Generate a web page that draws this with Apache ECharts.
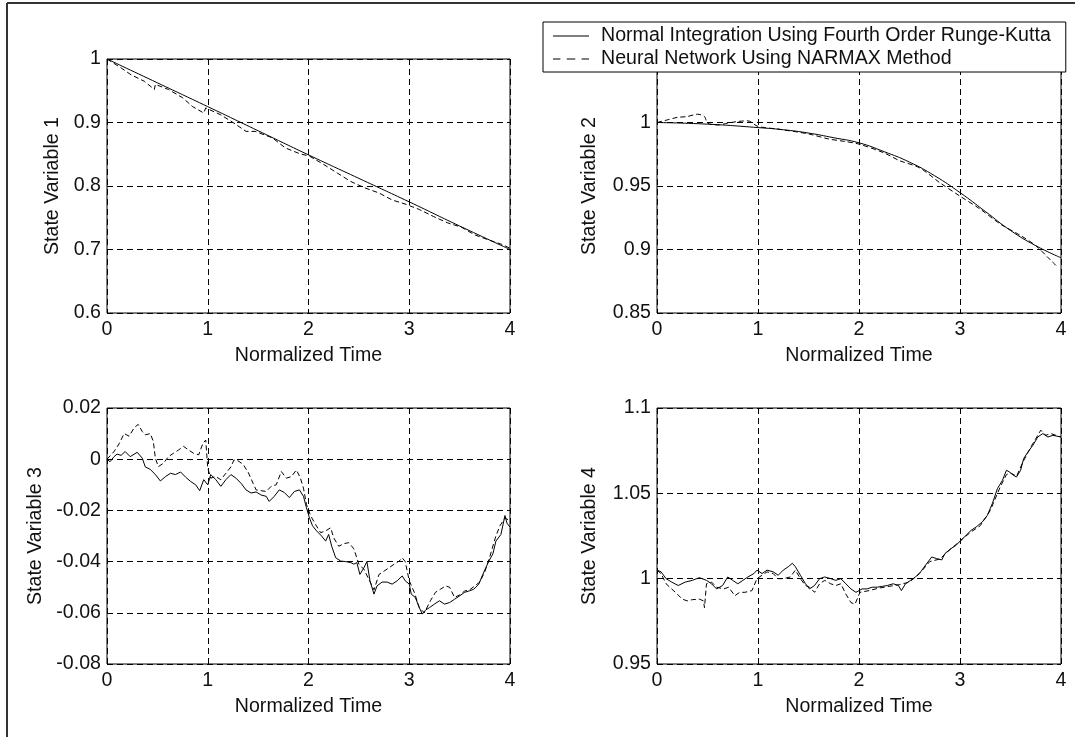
<!DOCTYPE html>
<html>
<head>
<meta charset="utf-8">
<title>State variables: Runge-Kutta vs NARMAX</title>
<script src="https://cdn.jsdelivr.net/npm/echarts@6/dist/echarts.min.js"></script>
<style>
  html, body { margin: 0; padding: 0; background: #fff; }
  #chart { width: 1075px; height: 737px; }
</style>
</head>
<body>
<div id="chart"></div>
<script>
// tick labels
var xLabels = ["0", "1", "2", "3", "4"];
var yLabels1 = ["0.6", "0.7", "0.8", "0.9", "1"];
var yLabels2 = ["0.85", "0.9", "0.95", "1", "1.05"];
var yLabels3 = ["-0.08", "-0.06", "-0.04", "-0.02", "0", "0.02"];
var yLabels4 = ["0.95", "1", "1.05", "1.1"];

var nameRk = "Normal Integration Using Fourth Order Runge-Kutta";
var nameNn = "Neural Network Using NARMAX Method";

// [normalized time, value]
var state1Rk = [[0, 1], [0.5, 0.9625], [1, 0.925], [1.5, 0.887], [2, 0.849], [2.5, 0.812],
  [3, 0.775], [3.5, 0.737], [4, 0.70]];
var state1Nn = [[0, 1], [0.14, 0.986], [0.24, 0.975], [0.37, 0.965], [0.47, 0.952], [0.48, 0.96],
  [0.61, 0.952], [0.75, 0.939], [0.85, 0.925], [0.96, 0.915], [0.98, 0.923], [1.13, 0.912],
  [1.26, 0.899], [1.38, 0.886], [1.47, 0.886], [1.64, 0.876], [1.77, 0.86], [1.91, 0.851],
  [2.01, 0.847], [2.15, 0.834], [2.29, 0.82], [2.42, 0.807], [2.56, 0.797], [2.7, 0.789],
  [2.83, 0.778], [2.97, 0.771], [3.1, 0.763], [3.24, 0.752], [3.38, 0.742], [3.52, 0.735],
  [3.65, 0.723], [3.79, 0.715], [3.92, 0.708], [4, 0.702]];

var state2Rk = [[0, 1], [0.5, 0.9987], [1, 0.996], [1.25, 0.9943], [1.5, 0.9917], [1.75, 0.988],
  [2, 0.984], [2.25, 0.977], [2.5, 0.9688], [2.75, 0.958], [3, 0.9448], [3.25, 0.930],
  [3.5, 0.915], [3.75, 0.903], [4, 0.8935]];
var state2Nn = [[0, 1], [0.1, 1.002], [0.2, 1.004], [0.3, 1.0047], [0.4, 1.0065], [0.47, 1.0047],
  [0.5, 0.9995], [0.6, 0.998], [0.7, 0.9995], [0.8, 1.0008], [0.9, 1.0013], [1.0, 0.9969],
  [1.2, 0.9948], [1.5, 0.991], [1.7, 0.987], [1.85, 0.9852], [2.0, 0.983], [2.25, 0.976],
  [2.4, 0.970], [2.6, 0.9643], [2.8, 0.9526], [3.0, 0.942], [3.2, 0.9318], [3.4, 0.920],
  [3.6, 0.911], [3.75, 0.903], [3.9, 0.8914], [3.95, 0.8875]];

var state3Rk = [[0, 0], [0.03, -0.001], [0.07, 0.001], [0.1, 0.002], [0.14, 0.0015], [0.18, 0.003],
  [0.23, 0.001], [0.3, 0.0027], [0.35, 0.0004], [0.38, -0.003], [0.43, -0.004], [0.48, -0.006],
  [0.53, -0.0085], [0.58, -0.0068], [0.63, -0.0055], [0.68, -0.006], [0.73, -0.005], [0.78, -0.007],
  [0.83, -0.0087], [0.88, -0.010], [0.92, -0.0123], [0.96, -0.008], [1.0, -0.010], [1.03, -0.006],
  [1.08, -0.008], [1.13, -0.0106], [1.18, -0.008], [1.23, -0.006], [1.28, -0.0074], [1.33, -0.0094],
  [1.38, -0.012], [1.43, -0.0132], [1.48, -0.0128], [1.53, -0.014], [1.58, -0.0145], [1.61, -0.0165],
  [1.66, -0.0145], [1.71, -0.012], [1.76, -0.013], [1.81, -0.015], [1.86, -0.0126], [1.91, -0.012],
  [1.95, -0.0145], [1.98, -0.019], [2.01, -0.023], [2.04, -0.026], [2.08, -0.028], [2.13, -0.030],
  [2.17, -0.032], [2.2, -0.0294], [2.23, -0.034], [2.27, -0.0385], [2.32, -0.0398], [2.37, -0.040],
  [2.42, -0.0404], [2.45, -0.041], [2.48, -0.0404], [2.51, -0.045], [2.55, -0.0424], [2.58, -0.040],
  [2.61, -0.0475], [2.65, -0.0527], [2.68, -0.0495], [2.73, -0.048], [2.78, -0.048], [2.83, -0.0488],
  [2.88, -0.0475], [2.93, -0.0456], [2.96, -0.0475], [3.0, -0.0488], [3.02, -0.0527], [3.06, -0.054],
  [3.1, -0.058], [3.13, -0.0605], [3.16, -0.059], [3.2, -0.058], [3.25, -0.0566], [3.3, -0.0553],
  [3.35, -0.0566], [3.4, -0.056], [3.45, -0.0547], [3.5, -0.0534], [3.55, -0.052], [3.6, -0.0514],
  [3.64, -0.0508], [3.69, -0.0488], [3.73, -0.045], [3.76, -0.0424], [3.79, -0.0398], [3.83, -0.037],
  [3.86, -0.032], [3.91, -0.0294], [3.95, -0.022], [3.97, -0.025], [4, -0.0265]];
var state3Nn = [[0, 0], [0.07, 0.003], [0.12, 0.006], [0.17, 0.010], [0.22, 0.009], [0.27, 0.0123],
  [0.31, 0.0136], [0.35, 0.0108], [0.38, 0.0095], [0.43, 0.010], [0.46, 0.0069], [0.48, 0.0004],
  [0.51, -0.0029], [0.56, -0.0016], [0.61, 0.001], [0.66, 0.0023], [0.71, 0.0036], [0.76, 0.005],
  [0.81, 0.0036], [0.86, 0.0023], [0.91, 0.0017], [0.95, 0.006], [0.98, 0.0075], [1.0, -0.0035],
  [1.03, -0.0074], [1.08, -0.0068], [1.13, -0.008], [1.18, -0.0055], [1.23, -0.003], [1.26, -0.0003],
  [1.3, -0.0006], [1.35, -0.002], [1.4, -0.005], [1.45, -0.0094], [1.48, -0.012], [1.53, -0.0123],
  [1.58, -0.0126], [1.63, -0.0106], [1.68, -0.010], [1.73, -0.0048], [1.78, -0.0074], [1.83, -0.0068],
  [1.88, -0.0042], [1.92, -0.0074], [1.95, -0.0113], [1.98, -0.0177], [2.02, -0.022], [2.07, -0.0255],
  [2.12, -0.0287], [2.17, -0.028], [2.22, -0.0268], [2.25, -0.0307], [2.3, -0.034], [2.35, -0.033],
  [2.4, -0.0326], [2.45, -0.035], [2.5, -0.041], [2.55, -0.043], [2.6, -0.047], [2.65, -0.051],
  [2.7, -0.045], [2.75, -0.0437], [2.8, -0.0424], [2.85, -0.041], [2.9, -0.0398], [2.93, -0.0385],
  [2.96, -0.040], [3.0, -0.0475], [3.05, -0.052], [3.1, -0.058], [3.15, -0.060], [3.21, -0.0553],
  [3.26, -0.052], [3.31, -0.0508], [3.36, -0.0495], [3.4, -0.050], [3.45, -0.054], [3.5, -0.053],
  [3.55, -0.0515], [3.6, -0.051], [3.65, -0.0495], [3.7, -0.048], [3.75, -0.044], [3.8, -0.038],
  [3.86, -0.030], [3.9, -0.026], [3.95, -0.023], [4, -0.024]];

var state4Rk = [[0, 1.005], [0.04, 1.004], [0.09, 1.0], [0.145, 0.998], [0.21, 0.996], [0.28, 0.998],
  [0.35, 0.999], [0.42, 1.0006], [0.49, 0.999], [0.54, 0.997], [0.59, 0.994], [0.65, 0.996],
  [0.70, 1.001], [0.75, 0.999], [0.8, 0.997], [0.85, 0.999], [0.9, 1.001], [0.96, 1.003],
  [0.99, 1.005], [1.04, 1.003], [1.09, 1.005], [1.15, 1.004], [1.2, 1.002], [1.25, 1.005],
  [1.3, 1.007], [1.34, 1.009], [1.37, 1.007], [1.42, 1.002], [1.47, 0.997], [1.51, 0.994],
  [1.56, 0.996], [1.61, 1.0], [1.66, 1.001], [1.72, 1.0], [1.77, 0.999], [1.82, 1.0],
  [1.87, 0.997], [1.92, 0.994], [1.97, 0.992], [2.03, 0.994], [2.08, 0.994], [2.13, 0.995],
  [2.18, 0.995], [2.23, 0.9955], [2.28, 0.996], [2.34, 0.997], [2.39, 0.996], [2.42, 0.993],
  [2.46, 0.997], [2.51, 0.999], [2.56, 1.001], [2.61, 1.004], [2.66, 1.008], [2.72, 1.0127],
  [2.77, 1.0117], [2.82, 1.011], [2.85, 1.0147], [2.91, 1.0176], [2.96, 1.0195], [3.01, 1.0225],
  [3.06, 1.0254], [3.11, 1.0283], [3.16, 1.0303], [3.22, 1.0332], [3.27, 1.037], [3.32, 1.044],
  [3.37, 1.0527], [3.42, 1.0576], [3.46, 1.0635], [3.49, 1.0625], [3.53, 1.0605], [3.56, 1.0596],
  [3.6, 1.0635], [3.63, 1.0703], [3.67, 1.074], [3.72, 1.078], [3.77, 1.083], [3.82, 1.085],
  [3.87, 1.083], [3.92, 1.084], [4, 1.083]];
var state4Nn = [[0, 1.005], [0.04, 1.003], [0.09, 0.997], [0.145, 0.994], [0.2, 0.991], [0.25, 0.988],
  [0.3, 0.987], [0.35, 0.9877], [0.42, 0.988], [0.46, 0.987], [0.47, 0.983], [0.49, 0.997],
  [0.54, 0.998], [0.59, 0.995], [0.66, 0.994], [0.71, 0.995], [0.77, 0.990], [0.82, 0.992],
  [0.87, 0.992], [0.94, 0.993], [0.99, 1.0], [1.04, 1.002], [1.09, 1.004], [1.15, 1.003],
  [1.2, 1.0], [1.25, 1.0], [1.32, 1.001], [1.37, 1.005], [1.42, 1.0], [1.47, 0.996],
  [1.51, 0.995], [1.56, 0.992], [1.61, 0.997], [1.66, 0.999], [1.72, 0.997], [1.77, 0.996],
  [1.82, 0.997], [1.87, 0.991], [1.92, 0.986], [1.96, 0.985], [2.01, 0.992], [2.1, 0.993],
  [2.2, 0.9945], [2.3, 0.9955], [2.4, 0.9965], [2.5, 0.998], [2.6, 1.003], [2.7, 1.010],
  [2.8, 1.0115], [2.9, 1.017], [3.0, 1.022], [3.1, 1.027], [3.2, 1.031], [3.3, 1.040],
  [3.4, 1.054], [3.46, 1.061], [3.5, 1.062], [3.56, 1.060], [3.62, 1.068], [3.7, 1.077],
  [3.75, 1.082], [3.8, 1.087], [3.85, 1.084], [3.9, 1.085], [4, 1.083]];

var font = "'Liberation Sans', Arial, Helvetica, sans-serif";
var textCol = "#111";
var fs = 19.6;

var myChart = echarts.init(document.getElementById("chart"), null, { renderer: "canvas" });

function xAxisFor(gi) {
  return {
    type: "value",
    gridIndex: gi,
    min: 0,
    max: 4,
    interval: 1,
    name: "Normalized Time",
    nameLocation: "middle",
    nameGap: 33,
    nameTextStyle: { color: textCol, fontSize: fs, fontFamily: font },
    axisLine: { show: false, onZero: false },
    axisTick: { show: false },
    splitLine: { show: true, lineStyle: { color: "#000", type: [6, 4], width: 1 } },
    axisLabel: {
      margin: 7,
      color: textCol,
      fontSize: fs,
      fontFamily: font,
      formatter: function (v, i) { return xLabels[i]; }
    }
  };
}

function yAxisFor(gi, min, max, step, labels, title, gap) {
  return {
    type: "value",
    gridIndex: gi,
    min: min,
    max: max,
    interval: step,
    name: title,
    nameLocation: "middle",
    nameGap: gap,
    nameTextStyle: { color: textCol, fontSize: fs, fontFamily: font },
    axisLine: { show: false, onZero: false },
    axisTick: { show: false },
    splitLine: { show: true, lineStyle: { color: "#000", type: [6, 4], width: 1 } },
    axisLabel: {
      margin: 6,
      color: textCol,
      fontSize: fs,
      fontFamily: font,
      formatter: function (v, i) { return labels[i]; }
    }
  };
}

function lineFor(name, gi, data, dashed, smooth) {
  return {
    name: name,
    type: "line",
    xAxisIndex: gi,
    yAxisIndex: gi,
    data: data,
    symbol: "none",
    smooth: smooth || false,
    lineStyle: { color: "#000", width: 1, type: dashed ? [5, 3] : "solid" },
    itemStyle: { color: "#000" },
    z: dashed ? 3 : 4
  };
}

var gridBox = { show: true, borderColor: "#000", borderWidth: 1, backgroundColor: "#fff", containLabel: false };

var option = {
  backgroundColor: "#fff",
  animation: false,
  grid: [
    Object.assign({ left: 107, top: 59, width: 403, height: 254 }, gridBox),
    Object.assign({ left: 657, top: 59, width: 404, height: 254 }, gridBox),
    Object.assign({ left: 107, top: 408, width: 403, height: 256 }, gridBox),
    Object.assign({ left: 657, top: 408, width: 404, height: 256 }, gridBox)
  ],
  xAxis: [xAxisFor(0), xAxisFor(1), xAxisFor(2), xAxisFor(3)],
  yAxis: [
    yAxisFor(0, 0.6, 1, 0.1, yLabels1, "State Variable 1", 44),
    yAxisFor(1, 0.85, 1.05, 0.05, yLabels2, "State Variable 2", 57),
    yAxisFor(2, -0.08, 0.02, 0.02, yLabels3, "State Variable 3", 61),
    yAxisFor(3, 0.95, 1.1, 0.05, yLabels4, "State Variable 4", 57)
  ],
  legend: {
    orient: "vertical",
    left: 543,
    top: 22,
    padding: [4, 15, 3, 10],
    itemWidth: 36,
    itemHeight: 1.5,
    itemGap: 3,
    backgroundColor: "#fff",
    borderColor: "#000",
    borderWidth: 1,
    selectedMode: false,
    z: 10,
    textStyle: { color: textCol, fontSize: fs, fontFamily: font, padding: [0, 0, 0, 7] },
    data: [
      { name: nameRk, icon: "path://M0 0H36V1H0Z" },
      { name: nameNn, icon: "path://M0 0H7V1H0Z M13 0H21V1H13Z M27 0H34V1H27Z" }
    ]
  },
  graphic: [
    { type: "line", shape: { x1: 7, y1: 3, x2: 1075, y2: 3 }, style: { stroke: "#333", lineWidth: 2 } },
    { type: "line", shape: { x1: 7, y1: 3, x2: 7, y2: 737 }, style: { stroke: "#333", lineWidth: 2 } }
  ],
  series: [
    lineFor(nameRk, 0, state1Rk, false, true),
    lineFor(nameNn, 0, state1Nn, true),
    lineFor(nameRk, 1, state2Rk, false, true),
    lineFor(nameNn, 1, state2Nn, true, 0.3),
    lineFor(nameRk, 2, state3Rk, false),
    lineFor(nameNn, 2, state3Nn, true),
    lineFor(nameRk, 3, state4Rk, false),
    lineFor(nameNn, 3, state4Nn, true)
  ]
};

myChart.setOption(option);
</script>
</body>
</html>
